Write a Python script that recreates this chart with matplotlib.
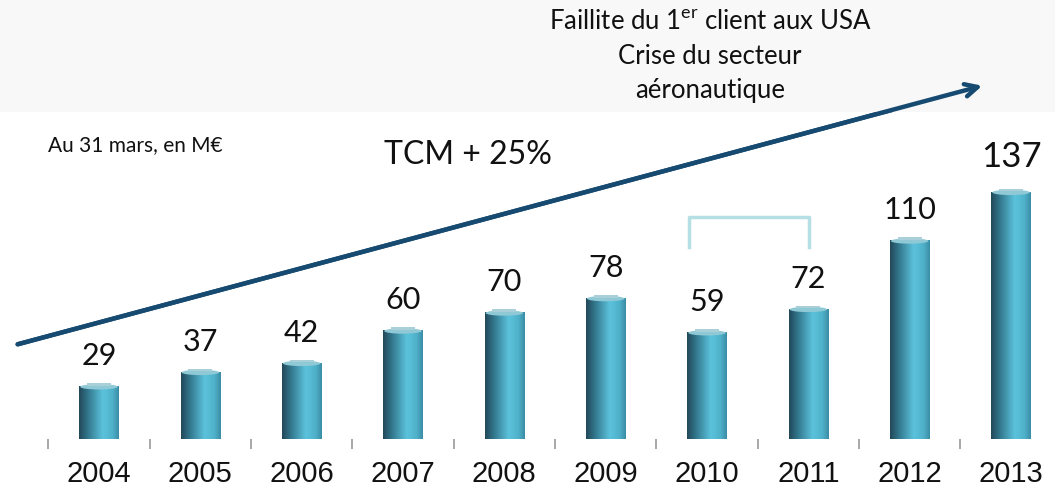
import numpy as np
import matplotlib
matplotlib.use('Agg')
import matplotlib.pyplot as plt
from matplotlib.patches import Rectangle, Ellipse
from matplotlib.colors import to_rgb

# data (M€, au 31 mars)
years = ['2004', '2005', '2006', '2007', '2008', '2009', '2010', '2011', '2012', '2013']
values = [29, 37, 42, 60, 70, 78, 59, 72, 110, 137]

num_font = ['Liberation Sans', 'DejaVu Sans']
txt_font = ['Lato', 'DejaVu Sans']

W, H = 1055, 494
fig = plt.figure(figsize=(W / 100, H / 100), dpi=100)
fig.patch.set_facecolor('white')

# light grey band at top
fig.patches.append(Rectangle((0, 1 - 112 / H), 1, 112 / H, transform=fig.transFigure,
                             facecolor='#f8f8f8', edgecolor='none', zorder=0))

# axes geometry: bar centres 99px .. 1011px, baseline at 439px, 1.8 px per M€
step = (1011 - 99) / 9
x0, x1 = -0.55, 9.4
left = (99 + x0 * step) / W
width = (x1 - x0) * step / W
base = (H - 439) / H
ytop = 439 / 1.8
ax = fig.add_axes([left, base, width, 1 - base])
ax.set_xlim(x0, x1)
ax.set_ylim(0, ytop)
ax.patch.set_alpha(0)
for s in ax.spines.values():
    s.set_visible(False)

# cylinder-like gradient
stops = [(0.0, '#22495a'), (0.25, '#357d93'), (0.6, '#5cc3dc'), (0.85, '#4fb0c9'), (1.0, '#3b8ea6')]
n = 60
xs = np.linspace(0, 1, n)
grad = np.zeros((1, n, 3))
for c in range(3):
    grad[0, :, c] = np.interp(xs, [p for p, _ in stops], [to_rgb(col)[c] for _, col in stops])

bw = 0.39
for i, v in enumerate(values):
    ax.imshow(grad, extent=(i - bw / 2, i + bw / 2, 0, v), aspect='auto', zorder=2,
              interpolation='bilinear')
    ax.add_patch(Ellipse((i, v), bw * 0.95, 3.0, facecolor='#8fc9d6', edgecolor='none', zorder=3))
    ax.add_patch(Rectangle((i - bw * 0.3, v + 0.6), bw * 0.6, 1.4, facecolor='#a9cfd8',
                           edgecolor='none', zorder=3))
    big = i == len(values) - 1
    ax.annotate(str(v), (i, v), xytext=(0, 12 if not big else 14), textcoords='offset points',
                ha='center', va='bottom', fontsize=25 if big else 22, family=txt_font,
                color='#111111')

ax.set_xticks(range(len(years)))
ax.set_xticklabels(years, fontsize=21, family=num_font, color='#111111')
ax.tick_params(axis='x', which='major', length=0, pad=15)
ax.set_xticks(np.arange(-0.5, 9, 1), minor=True)
ax.tick_params(axis='x', which='minor', length=7, width=1.2, color='#999999', direction='out')
ax.set_yticks([])
ax.set_xlim(x0, x1)
ax.set_ylim(0, ytop)

# bracket over 2010-2011
bx0, bx1 = (689 - 99) / step, (809 - 99) / step
by0, by1 = (439 - 247) / 1.8, (439 - 217) / 1.8
ax.plot([bx0, bx0, bx1, bx1], [by0, by1, by1, by0], color='#b5dfe4', lw=2.5,
        solid_joinstyle='round', zorder=1)

# trend arrow
fig.add_artist(plt.annotate('', xy=(985 / W, 1 - 85 / H), xytext=(15 / W, 1 - 345 / H),
                            xycoords='figure fraction', textcoords='figure fraction',
                            arrowprops=dict(arrowstyle='->,head_length=0.9,head_width=0.45',
                                            color='#174a70', lw=3.2)))

fig.text(468 / W, 1 - 155 / H, 'TCM + 25%', ha='center', va='center', fontsize=23,
         family=txt_font, color='#111111')
fig.text(48 / W, 1 - 145 / H, 'Au 31 mars, en M€', ha='left', va='center', fontsize=15,
         family=txt_font, color='#111111')
fig.text(710 / W, 1 - 22 / H, 'Faillite du 1$^{\\mathregular{er}}$ client aux USA', ha='center',
         va='center', fontsize=18.5, family=txt_font, color='#111111')
fig.text(710 / W, 1 - 56 / H, 'Crise du secteur', ha='center', va='center', fontsize=18.5,
         family=txt_font, color='#111111')
fig.text(710 / W, 1 - 90 / H, 'aéronautique', ha='center', va='center', fontsize=18.5,
         family=txt_font, color='#111111')

fig.savefig('out.png', dpi=100)
